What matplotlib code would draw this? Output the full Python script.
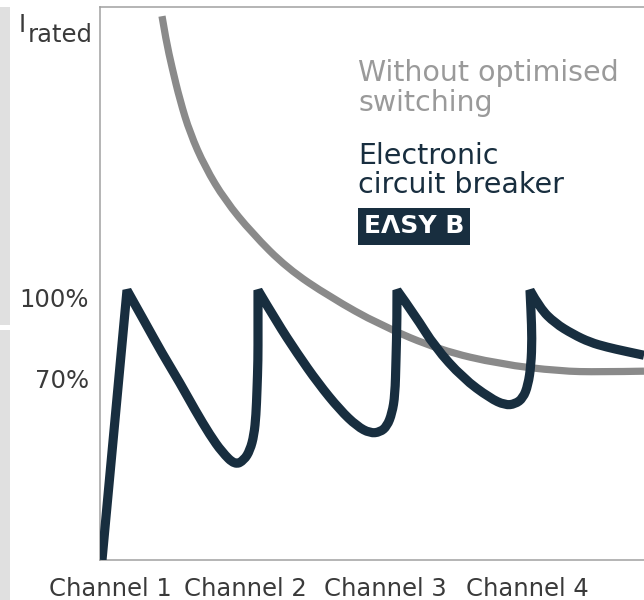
import matplotlib

matplotlib.use("Agg")
import matplotlib.pyplot as plt
from matplotlib.patches import PathPatch, Rectangle
from matplotlib.path import Path
from matplotlib.transforms import ScaledTranslation

# time axis (arbitrary units) and load in % of rated current
without_t = [62, 66, 72, 80, 90, 105, 125, 152, 187, 230, 280, 340, 400, 460, 500, 544]
without_load = [201.6, 192.7, 182.6, 170.4, 158.3, 145.7, 133.4, 121.2, 108.2,
                97.5, 87.1, 77.8, 72.6, 70.0, 69.7, 70.0]

easyb_t = [2, 27, 45, 62, 80, 95, 110, 122, 135, 144, 150, 154, 156, 157, 158, 158,
           158, 177, 197, 218, 240, 257, 270, 280, 287, 292, 295, 296, 297, 297,
           315, 335, 363, 390, 405, 415, 423, 428, 431, 432, 431, 430,
           440, 455, 473, 490, 507, 525, 544]
easyb_load = [0, 100, 88.1, 76.7, 65.6, 55.6, 46.3, 40.0, 35.2, 37.0, 40.7, 46.3,
              53.7, 63.0, 74.1, 85.2, 100, 88.1, 76.7, 65.6, 55.6, 49.6, 47.0, 47.4,
              49.6, 54.4, 61.1, 74.1, 88.9, 100, 90.7, 78.9, 67.4, 60.0, 57.4,
              57.8, 60.0, 64.8, 72.2, 82.0, 92.5, 100,
              93.3, 87.8, 83.7, 80.7, 78.9, 77.4, 75.9]
# indices where the breaker switches the next channel on (sharp corners)
easyb_corners = [0, 1, 16, 29, 41, 48]

channel_pos = [10, 145, 285, 427]
channel_labels = ["Channel 1", "Channel 2", "Channel 3", "Channel 4"]
load_ticks = [70, 100]
load_labels = ["70%", "100%"]

NAVY = "#182e3f"
GREY_LINE = "#8a8a8a"
GREY_TEXT = "#9a9a9a"
LABEL = "#3a3a3a"
SPINE = "#a0a0a0"


def smooth_path(xs, ys, corners):
    """Quadratic-spline path through the points, kept sharp at the corners."""
    pts = list(zip(xs, ys))
    verts = [pts[corners[0]]]
    codes = [Path.MOVETO]
    for a, b in zip(corners[:-1], corners[1:]):
        seg = pts[a:b + 1]
        if len(seg) == 2:
            verts.append(seg[1])
            codes.append(Path.LINETO)
            continue
        for i in range(1, len(seg) - 1):
            if i < len(seg) - 2:
                end = ((seg[i][0] + seg[i + 1][0]) / 2, (seg[i][1] + seg[i + 1][1]) / 2)
            else:
                end = seg[-1]
            verts += [seg[i], end]
            codes += [Path.CURVE3, Path.CURVE3]
    return Path(verts, codes)


plt.rcParams["font.family"] = ["DejaVu Sans"]

fig = plt.figure(figsize=(6.44, 6.0), dpi=100)
ax = fig.add_axes([100 / 644, 40 / 600, 544 / 644, 553 / 600])

grey_path = smooth_path(without_t, without_load, [0, len(without_t) - 1])
ax.add_patch(PathPatch(grey_path, fill=False, edgecolor=GREY_LINE, linewidth=5.2,
                       capstyle="butt", joinstyle="round", zorder=2))
navy_path = smooth_path(easyb_t, easyb_load, easyb_corners)
ax.add_patch(PathPatch(navy_path, fill=False, edgecolor=NAVY, linewidth=6.6,
                       capstyle="butt", joinstyle="bevel", zorder=3))

ax.set_xlim(0, 544)
ax.set_ylim(0, 205)

ax.set_xticks(channel_pos)
ax.set_xticklabels(channel_labels)
ax.set_yticks(load_ticks)
ax.set_yticklabels(load_labels)
ax.tick_params(length=0, labelsize=17.5, labelcolor=LABEL)
ax.tick_params(axis="x", pad=12)
ax.tick_params(axis="y", pad=8)
for lbl in ax.get_yticklabels():
    lbl.set_transform(lbl.get_transform()
                      + ScaledTranslation(0, -7 / 100, fig.dpi_scale_trans))

for side in ("left", "top", "bottom"):
    ax.spines[side].set_color(SPINE)
    ax.spines[side].set_linewidth(1.1)
ax.spines["right"].set_visible(False)

# I_rated marker at the top of the load axis
fig.text(19 / 644, 1 - 32 / 600, "I", fontsize=17.5, color=LABEL, va="baseline")
fig.text(28 / 644, 1 - 42 / 600, "rated", fontsize=17.5, color=LABEL, va="baseline")

# light grey side strip
fig.add_artist(Rectangle((0, 0), 10 / 644, 1 - 330 / 600, transform=fig.transFigure,
                         color="#e0e0e0", lw=0, zorder=0))
fig.add_artist(Rectangle((0, 1 - 325 / 600), 10 / 644, 318 / 600,
                         transform=fig.transFigure, color="#e0e0e0", lw=0, zorder=0))

# captions
captions = [
    ("Without optimised", 0.8662, GREY_TEXT),
    ("switching", 0.8119, GREY_TEXT),
    ("Electronic", 0.7161, NAVY),
    ("circuit breaker", 0.6637, NAVY),
]
for txt, yy, col in captions:
    ax.text(0.4743, yy, txt, transform=ax.transAxes, fontsize=20.5, color=col,
            va="baseline", ha="left")

ax.add_patch(Rectangle((0.4743, 0.5696), 0.2059, 0.0669, transform=ax.transAxes,
                       color=NAVY, lw=0, zorder=4))
ax.text(0.5772, 0.6031, "EΛSY B", transform=ax.transAxes, fontsize=18,
        fontweight="bold", color="white", ha="center", va="center", zorder=5)

fig.savefig("out.png", dpi=100)
